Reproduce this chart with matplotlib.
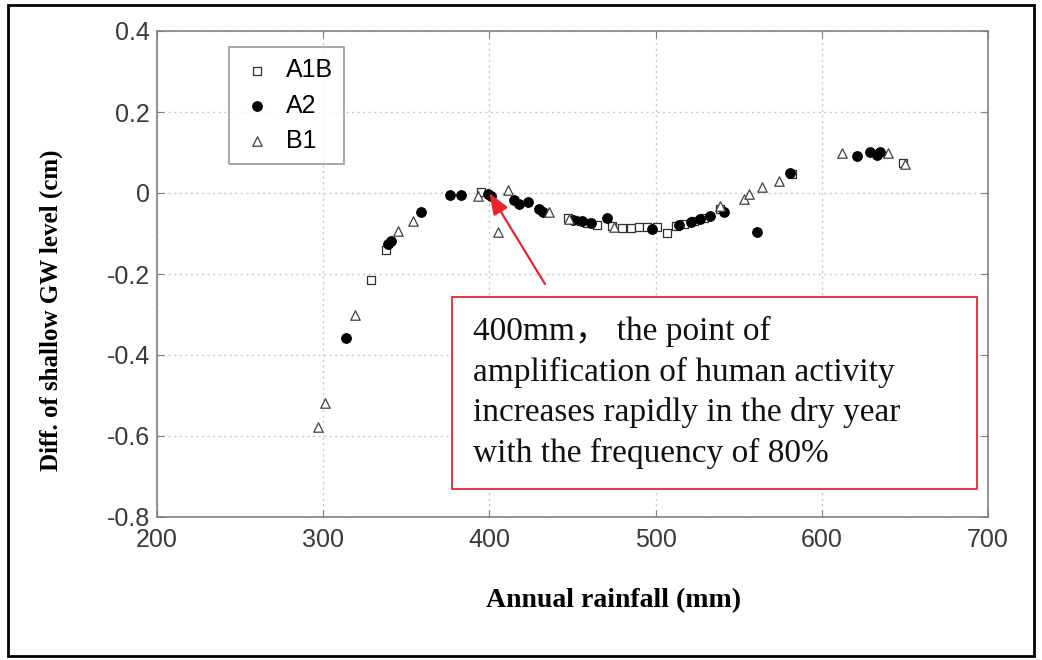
import matplotlib
matplotlib.use("Agg")
import matplotlib.pyplot as plt
from matplotlib.patches import Rectangle

# ---- data ----
a1b_x = [329, 338, 395, 447, 451, 455, 459, 465, 474, 480, 485, 490, 495, 501, 507,
         512, 517, 523, 529, 539, 582, 649]
a1b_y = [-0.215, -0.14, 0.003, -0.062, -0.066, -0.070, -0.073, -0.078, -0.082, -0.086,
         -0.086, -0.085, -0.085, -0.085, -0.099, -0.082, -0.077, -0.070, -0.062, -0.040,
         0.047, 0.075]

a2_x = [314, 339, 341, 359, 376, 383, 399, 401, 415, 418, 423, 430, 432, 450, 456,
        461, 471, 498, 514, 521, 527, 533, 541, 561, 581, 621, 629, 633, 635]
a2_y = [-0.357, -0.126, -0.118, -0.047, -0.005, -0.005, -0.003, -0.008, -0.017, -0.028,
        -0.022, -0.040, -0.048, -0.066, -0.070, -0.075, -0.062, -0.088, -0.080, -0.072,
        -0.064, -0.058, -0.048, -0.097, 0.050, 0.092, 0.102, 0.093, 0.102]

b1_x = [297, 301, 319, 345, 354, 393, 405, 411, 436, 448, 475, 539, 553, 556, 564,
        574, 612, 640, 650]
b1_y = [-0.578, -0.518, -0.300, -0.094, -0.069, -0.008, -0.097, 0.007, -0.047, -0.065,
        -0.083, -0.033, -0.015, -0.003, 0.015, 0.030, 0.100, 0.100, 0.072]

series_labels = ["A1B", "A2", "B1"]
x_ticks = [200, 300, 400, 500, 600, 700]
y_ticks = [-0.8, -0.6, -0.4, -0.2, 0, 0.2, 0.4]
y_tick_labels = ["-0.8", "-0.6", "-0.4", "-0.2", "0", "0.2", "0.4"]
x_label = "Annual rainfall (mm)"
y_label = "Diff. of shallow GW level (cm)"
note = ("400mm\uff0c the point of\namplification of human activity\n"
        "increases rapidly in the dry year\nwith the frequency of 80%")
arrow_tip = (400, 0.0)
arrow_tail = (433.5, -0.225)

W, H = 1042, 660
fig = plt.figure(figsize=(W / 100, H / 100), dpi=100)
fig.patch.set_facecolor("white")
ax = fig.add_axes([157 / W, 1 - 517 / H, (988 - 157) / W, (517 - 31) / H])

gray = "#808080"
ax.scatter(a1b_x, a1b_y, marker="s", s=32, facecolors="white", edgecolors="#303030",
           linewidths=0.9, label=series_labels[0], zorder=3)
ax.scatter(a2_x, a2_y, marker="o", s=48, facecolors="black", edgecolors="black",
           linewidths=0.8, label=series_labels[1], zorder=3)
ax.scatter(b1_x, b1_y, marker="^", s=46, facecolors="white", edgecolors="#404040",
           linewidths=0.9, label=series_labels[2], zorder=3)

ax.set_xlim(200, 700)
ax.set_ylim(-0.8, 0.4)
ax.set_xticks(x_ticks)
ax.set_yticks(y_ticks)
ax.set_yticklabels(y_tick_labels)
ax.grid(True, linestyle=(0, (1.5, 2.5)), color="#c8c8c8", linewidth=1.0)
ax.set_axisbelow(True)
for sp in ax.spines.values():
    sp.set_color(gray)
    sp.set_linewidth(1.2)
ax.tick_params(direction="in", length=5, color=gray, labelsize=18,
               labelcolor="#3a3a3a", top=True, right=True)
ax.tick_params(axis="x", pad=8)
ax.tick_params(axis="y", pad=5)
for lab in ax.get_xticklabels() + ax.get_yticklabels():
    lab.set_family("Liberation Sans")

ax.set_xlabel(x_label, family="Liberation Serif", fontweight="bold", fontsize=20)
ax.xaxis.set_label_coords(0.549, -0.147)
ax.set_ylabel(y_label, family="Liberation Serif", fontweight="bold", fontsize=18)
ax.yaxis.set_label_coords(-0.113, 0.426)

leg = ax.legend(loc="upper left", bbox_to_anchor=(0.087, 0.967), frameon=True,
                fancybox=False, edgecolor=gray,
                prop={"family": "Liberation Sans", "size": 18},
                handletextpad=0.5, borderpad=0.45, labelspacing=0.45, handlelength=1.3,
                borderaxespad=0)
leg.get_frame().set_linewidth(1.2)

# annotation box
ax.add_patch(Rectangle((452 / W, 1 - 489 / H), (977 - 452) / W, (489 - 297) / H,
                       transform=fig.transFigure, fill=True, facecolor="white",
                       edgecolor="#e8262a", linewidth=1.3, zorder=4, clip_on=False))
fig.text(473 / W, 1 - 316 / H, note, family=["Liberation Serif", "Noto Sans CJK SC"],
         fontsize=24, va="top", ha="left", linespacing=1.4, zorder=5, color="#111111")
ax.annotate("", xy=arrow_tip, xytext=arrow_tail,
            arrowprops=dict(arrowstyle="-|>,head_length=1.3,head_width=0.5",
                            color="#e8262a", lw=1.6, shrinkA=0, shrinkB=0), zorder=5)

# outer frame
fig.add_artist(Rectangle((8 / W, 4 / H), (1034 - 8) / W, (655 - 4) / H,
                         transform=fig.transFigure, fill=False, edgecolor="black",
                         linewidth=2))

fig.savefig("out.png", dpi=100)
